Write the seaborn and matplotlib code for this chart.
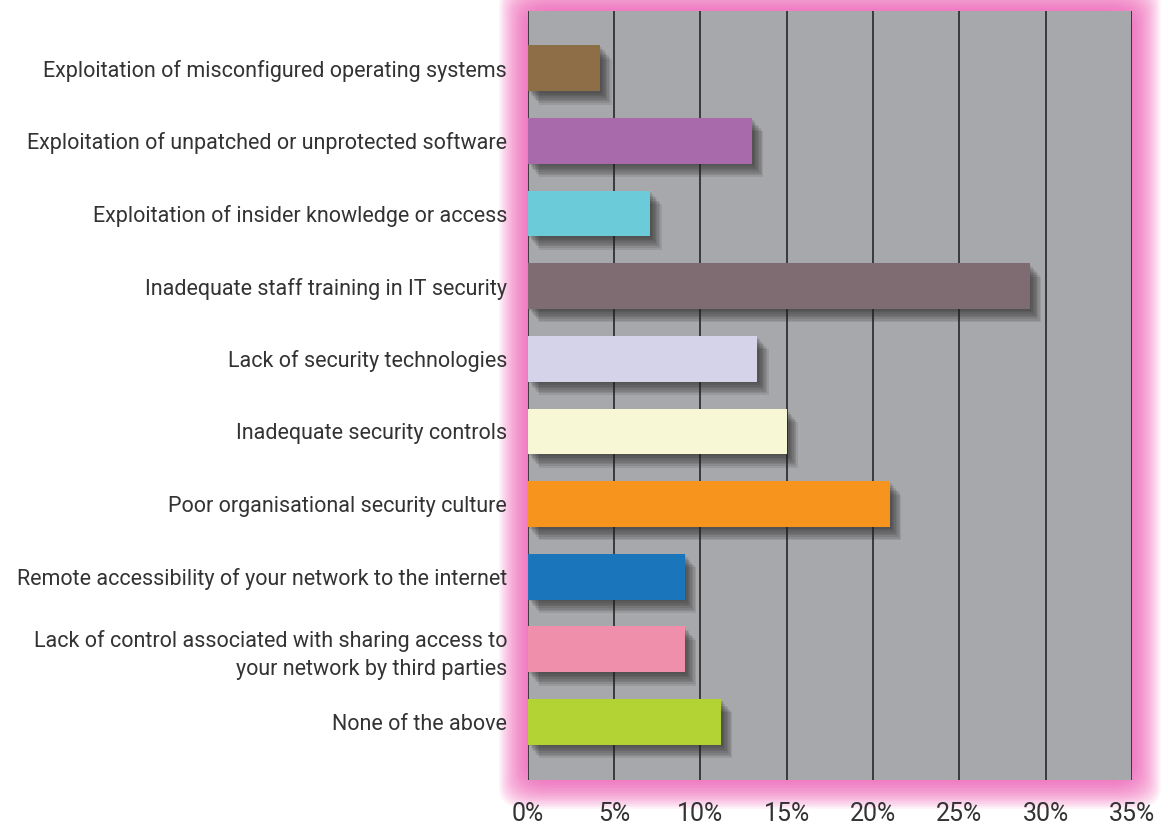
import matplotlib
matplotlib.use('Agg')
import matplotlib.pyplot as plt
import matplotlib.patheffects as pe
from matplotlib.patches import FancyBboxPatch
import pandas as pd
import seaborn as sns

categories = [
    'Exploitation of misconfigured operating systems',
    'Exploitation of unpatched or unprotected software',
    'Exploitation of insider knowledge or access',
    'Inadequate staff training in IT security',
    'Lack of security technologies',
    'Inadequate security controls',
    'Poor organisational security culture',
    'Remote accessibility of your network to the internet',
    'Lack of control associated with sharing access to\nyour network by third parties',
    'None of the above',
]
values = [4.2, 13.0, 7.1, 29.1, 13.3, 15.0, 21.0, 9.1, 9.1, 11.2]
colors = ['#8d6e47', '#a86aab', '#6ccbd9', '#7f6b72', '#d4d3ea',
          '#f7f6d5', '#f7941d', '#1a75bb', '#ef8fab', '#b3d335']
xticks = [0, 5, 10, 15, 20, 25, 30, 35]

df = pd.DataFrame({'cat': categories, 'val': values})

sns.set_style('white')
plt.rcParams['font.family'] = ['Roboto', 'DejaVu Sans']

fig = plt.figure(figsize=(11.68, 8.27), dpi=100)
ax = fig.add_axes([0.452, 0.0568, 0.517, 0.93])
ax.set_zorder(5)

# pink glow around the plot area
x0, y0, w, h = 0.452, 0.0568, 0.517, 0.93
W, H = 1168, 827
for i in range(18):
    pad = (i + 1) * 1.6
    r = FancyBboxPatch((x0 - pad / W, y0 - pad / H), w + 2 * pad / W, h + 2 * pad / H,
                       boxstyle='round,pad=0,rounding_size=0.025',
                       transform=fig.transFigure, facecolor='#f050b0',
                       edgecolor='none', alpha=0.065, zorder=0)
    fig.patches.append(r)

ax.set_facecolor('#a7a8ab')
sns.barplot(data=df, y='cat', x='val', hue='cat', palette=colors, legend=False,
            orient='h', width=0.63, saturation=1, ax=ax, zorder=3)

# soft drop shadow
shadow = [pe.SimplePatchShadow(offset=(k, -k * 1.2), shadow_rgbFace='#222222', alpha=0.11)
          for k in range(1, 9)]
for p in ax.patches:
    p.set_edgecolor('none')
    p.set_path_effects(shadow + [pe.Normal()])

ax.set_xlim(0, 35)
ax.set_ylim(9.8, -0.79)
ax.set_xticks(xticks)
ax.set_xticklabels([f'{t}%' for t in xticks])
ax.xaxis.grid(True, color='#3a3a3a', linewidth=1.4, zorder=1)
ax.set_axisbelow(True)
ax.tick_params(axis='x', direction='out', length=12.5, width=1.4, color='#3a3a3a',
               labelsize=18, labelcolor='#333333', pad=3)
ax.tick_params(axis='y', length=0, labelsize=15.5, labelcolor='#333333', pad=15)
for lab in ax.get_yticklabels():
    lab.set_horizontalalignment('right')
    lab.set_multialignment('right')
    lab.set_linespacing(1.45)
for s in ax.spines.values():
    s.set_visible(False)
ax.set_xlabel('')
ax.set_ylabel('')

plt.savefig('out.png', dpi=100)
